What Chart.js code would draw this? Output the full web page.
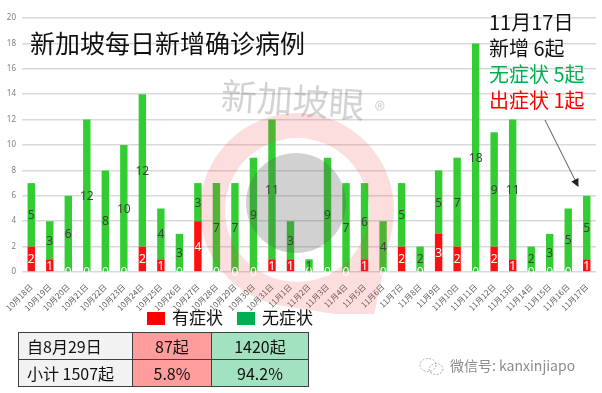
<!DOCTYPE html>
<html>
<head>
<meta charset="utf-8">
<script src="https://cdn.jsdelivr.net/npm/chart.js@4"></script>
<style>
  html, body { margin: 0; padding: 0; background: #fff; }
  #wrap { position: relative; width: 602px; height: 393px; overflow: hidden;
          font-family: "Noto Sans CJK SC", "Noto Sans", sans-serif; }
  #chart { position: absolute; left: 0; top: 0; }
  .abs { position: absolute; white-space: nowrap; }
  #title { left: 30px; top: 27px; font-size: 25px; line-height: 30px; color: #111; }
  #note { left: 489px; top: 9px; font-size: 20px; line-height: 26px; color: #111; }
  #legend { left: 147px; top: 305px; font-size: 17px; line-height: 24px; color: #111; }
  #legend span.box { display: inline-block; width: 18px; height: 13px; vertical-align: -1px; margin-right: 7px; }
  #legend span.item { margin-right: 14px; }
  #tbl { left: 18px; top: 332px; width: 290px; table-layout: fixed; border-collapse: collapse; font-size: 16px; color: #111; }
  #tbl td { border: 1.5px solid #404040; height: 26px; padding: 0; line-height: 26px; overflow: hidden; }
  #wx { left: 418px; top: 355px; font-size: 14px; color: #8c8c8c; line-height: 20px; }
</style>
</head>
<body>
<div id="wrap">
  <canvas id="chart" width="602" height="314"></canvas>
  <div id="title" class="abs">新加坡每日新增确诊病例</div>
  <div id="note" class="abs"></div>
  <svg class="abs" style="left:0;top:0" width="602" height="393">
    <defs>
      <marker id="ah" markerWidth="8" markerHeight="8" refX="7" refY="4" orient="auto">
        <path d="M0,0 L8,4 L0,8 z" fill="#222"/>
      </marker>
    </defs>
    <line x1="545" y1="120" x2="578" y2="186" stroke="#555" stroke-width="1" marker-end="url(#ah)"/>
  </svg>
  <div id="legend" class="abs"></div>
  <table id="tbl" class="abs"></table>
  <div id="wx" class="abs">
    <svg width="28" height="20" style="vertical-align:-5px;margin-right:4px">
      <ellipse cx="10" cy="9" rx="8" ry="6.5" fill="none" stroke="#aaa" stroke-width="1" stroke-dasharray="2,1.5"/>
      <ellipse cx="18" cy="13" rx="7" ry="5.5" fill="none" stroke="#aaa" stroke-width="1" stroke-dasharray="2,1.5"/>
    </svg>微信号: kanxinjiapo
  </div>
</div>
<script>
const days = [
  '10月18日', '10月19日', '10月20日', '10月21日', '10月22日', '10月23日', '10月24日',
  '10月25日', '10月26日', '10月27日', '10月28日', '10月29日', '10月30日', '10月31日',
  '11月1日', '11月2日', '11月3日', '11月4日', '11月5日', '11月6日', '11月7日',
  '11月8日', '11月9日', '11月10日', '11月11日', '11月12日', '11月13日', '11月14日',
  '11月15日', '11月16日', '11月17日'
];
const symptomatic  = [2, 1, 0, 0, 0, 0, 2, 1, 0, 4, 0, 0, 0, 1, 1, 0, 0, 0, 1, 0, 2, 0, 3, 2, 0, 2, 1, 0, 0, 0, 1];
const asymptomatic = [5, 3, 6, 12, 8, 10, 12, 4, 3, 3, 7, 7, 9, 11, 3, 1, 9, 7, 6, 4, 5, 2, 5, 7, 18, 9, 11, 2, 3, 5, 5];
const seriesNames = ['有症状', '无症状'];
const yTicks = [0, 2, 4, 6, 8, 10, 12, 14, 16, 18, 20];

const noteLines = [
  ['11月17日', '#111'],
  ['新增 6起', '#111'],
  ['无症状 5起', '#00b050'],
  ['出症状 1起', '#ff0000']
];
const tableRows = [
  ['自8月29日', '87起', '1420起'],
  ['小计 1507起', '5.8%', '94.2%']
];

const RED = '#ff1010';
const GREEN = '#33cc33';

// watermark + value labels
const overlay = {
  id: 'overlay',
  afterDatasetsDraw(chart) {
    const ctx = chart.ctx;
    ctx.save();
    // pink pin
    const cx = 297, cy = 210, R = 97, r = 72, tx = 373, ty = 320;
    ctx.beginPath();
    ctx.moveTo(tx, ty);
    ctx.lineTo(cx + R * Math.cos(11.9 * Math.PI / 180), cy + R * Math.sin(11.9 * Math.PI / 180));
    ctx.arc(cx, cy, R, 11.9 * Math.PI / 180, 98.9 * Math.PI / 180, true);
    ctx.closePath();
    ctx.moveTo(cx + r, cy);
    ctx.arc(cx, cy, r, 0, Math.PI * 2);
    ctx.fillStyle = 'rgba(240,60,60,0.17)';
    ctx.fill('evenodd');
    // grey disc
    ctx.beginPath();
    ctx.arc(296, 203, 50, 0, Math.PI * 2);
    ctx.fillStyle = 'rgba(90,90,90,0.28)';
    ctx.fill();
    // brand text
    ctx.translate(221, 95);
    ctx.rotate(4 * Math.PI / 180);
    ctx.fillStyle = 'rgba(120,120,120,0.33)';
    ctx.font = '36px "Noto Sans CJK SC"';
    ctx.textBaseline = 'middle';
    ctx.fillText('新加坡眼', 0, 0);
    ctx.font = '22px "Noto Sans CJK SC"';
    ctx.fillText('®', 154, 4);
    ctx.restore();

    ctx.save();
    ctx.font = '12px "Noto Sans", "Noto Sans CJK SC"';
    ctx.textAlign = 'center';
    ctx.textBaseline = 'middle';
    chart.data.datasets.forEach((ds, i) => {
      chart.getDatasetMeta(i).data.forEach((bar, j) => {
        ctx.fillStyle = i === 0 ? '#fff' : '#404040';
        ctx.fillText(String(ds.data[j]), bar.x, (bar.y + bar.base) / 2 + 1);
      });
    });
    ctx.restore();
  }
};

new Chart(document.getElementById('chart'), {
  type: 'bar',
  data: {
    labels: days,
    datasets: [
      { label: seriesNames[0], data: symptomatic, backgroundColor: RED },
      { label: seriesNames[1], data: asymptomatic, backgroundColor: GREEN }
    ]
  },
  options: {
    responsive: false,
    animation: false,
    layout: { padding: { top: 18, right: 6, left: 0, bottom: 0 } },
    datasets: { bar: { categoryPercentage: 0.8, barPercentage: 0.5 } },
    plugins: { legend: { display: false }, tooltip: { enabled: false } },
    scales: {
      x: {
        stacked: true,
        grid: { display: false },
        border: { display: false },
        ticks: { autoSkip: false, maxRotation: 45, minRotation: 45, padding: 2,
                 font: { size: 8, family: '"Noto Sans CJK SC"' }, color: '#595959' },
        afterFit: s => { s.height = 42; }
      },
      y: {
        stacked: true,
        min: 0, max: 20,
        afterBuildTicks: s => { s.ticks = yTicks.map(v => ({ value: v })); },
        grid: { color: '#d9d9d9', lineWidth: 1.5, drawTicks: false },
        border: { display: false },
        ticks: { padding: 6, font: { size: 8, family: '"Noto Sans"' }, color: '#7f7f7f' },
        afterFit: s => { s.width = 22; }
      }
    }
  },
  plugins: [overlay]
});

document.getElementById('note').innerHTML =
  noteLines.map(([t, c]) => `<div style="color:${c}">${t}</div>`).join('');

document.getElementById('legend').innerHTML =
  seriesNames.map((n, i) =>
    `<span class="item"><span class="box" style="background:${i ? '#00b050' : '#ff0000'}"></span>${n}</span>`
  ).join('');

const colBg = ['#f2f2f2', '#ff9d9d', '#a3e2c0'];
const colW = [114, 79, 97];
document.getElementById('tbl').innerHTML =
  '<colgroup>' + colW.map(w => `<col style="width:${w}px">`).join('') + '</colgroup>' +
  tableRows.map(row =>
    '<tr>' + row.map((t, k) =>
      `<td style="background:${colBg[k]};text-align:${k ? 'center' : 'left'};padding-left:${k ? 0 : 8}px">${t}</td>`
    ).join('') + '</tr>'
  ).join('');
</script>
</body>
</html>
